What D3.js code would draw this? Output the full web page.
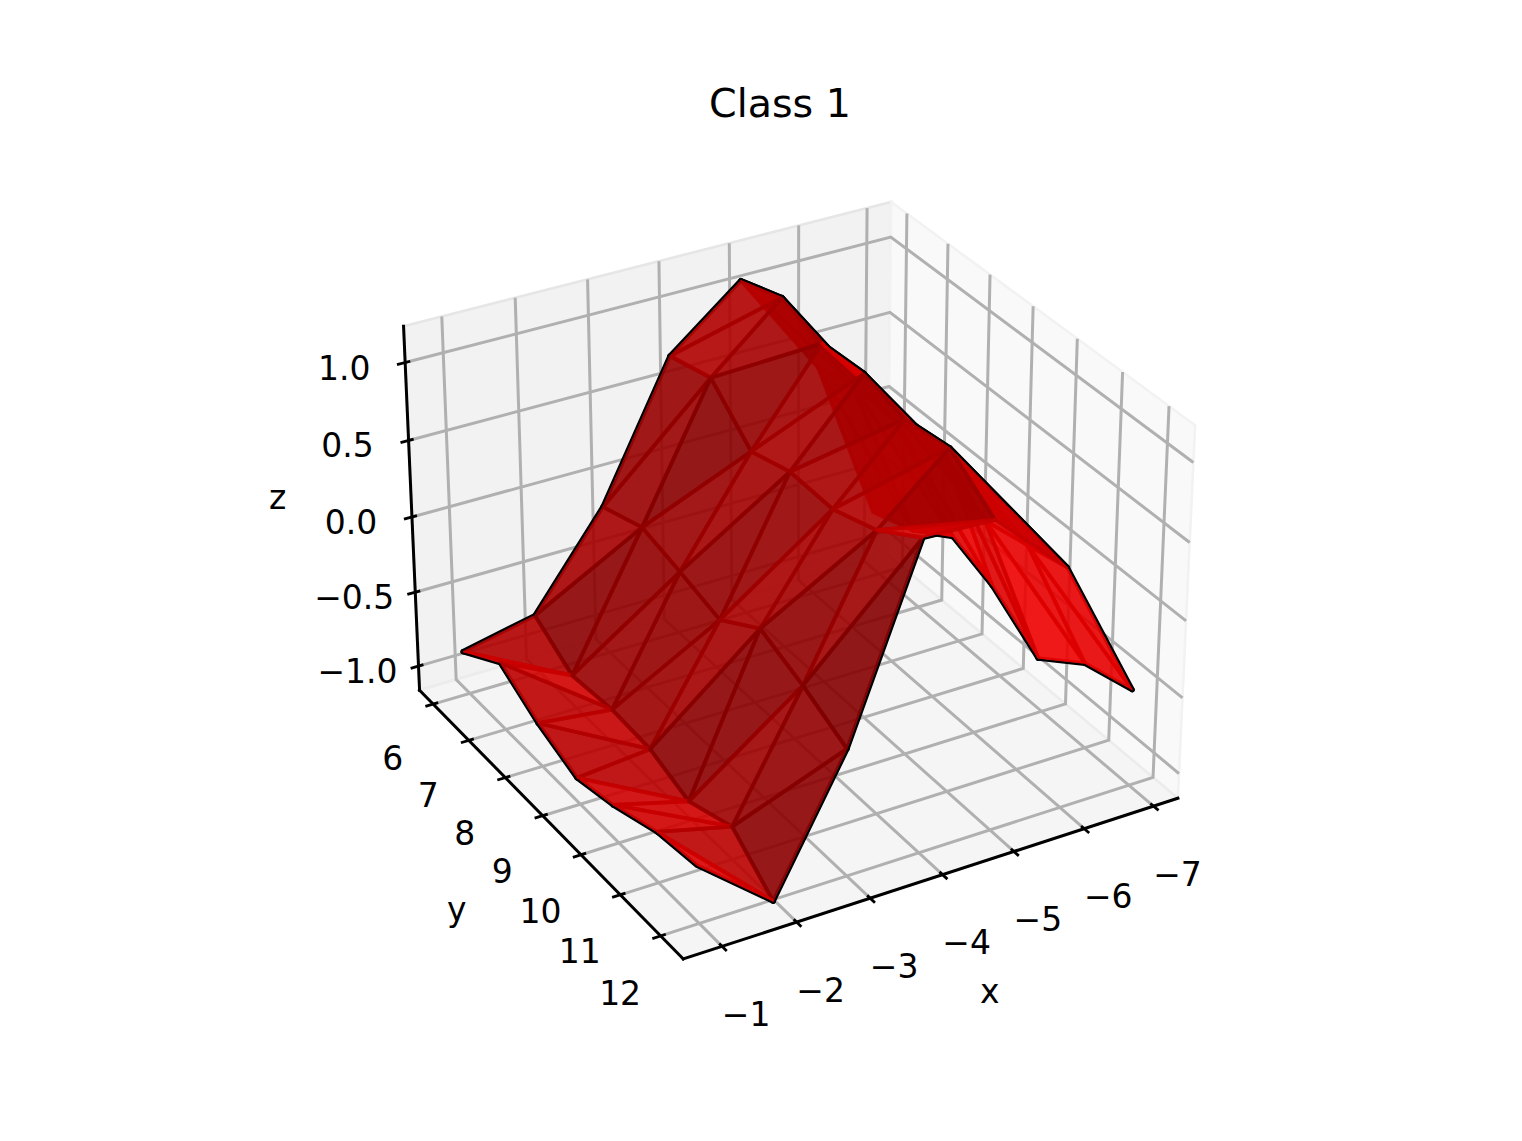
<!DOCTYPE html>
<html><head><meta charset="utf-8"><style>html,body{margin:0;background:#fff}svg{display:block}text{font-family:"DejaVu Sans";fill:#000}</style></head>
<body><div id="chart"></div>
<script src="https://cdnjs.cloudflare.com/ajax/libs/d3/7.8.5/d3.min.js"></script>
<script>
const title = "Class 1";
const xTicks = [-1,-2,-3,-4,-5,-6,-7];
const yTicks = [6,7,8,9,10,11,12];
const zTicks = [1.0,0.5,0.0,-0.5,-1.0];
const xLimits = [-7.355,-0.485], yLimits = [5.61,12.55], zLimits = [-1.165,1.23];
const xValues = [-1.035,-2.035,-3.035,-4.035,-5.035,-6.035,-7.035];
const yValues = [
 [5.77,6.83,7.84,8.86,9.80,10.91,11.90],
 [5.82,6.82,7.89,8.88,9.86,10.94,11.93],
 [5.82,6.87,7.85,8.86,9.86,10.89,11.93],
 [5.80,6.86,7.87,8.83,9.86,10.89,11.93],
 [5.84,6.88,7.87,8.88,9.85,10.87,11.90],
 [6.05,6.90,7.96,9.15,10.10,11.07,11.94],
 [5.77,6.78,7.76,8.72,9.83,10.89,11.94]];
const zValues = [
 [-0.94,-0.76,-0.92,-1.03,-0.97,-0.86,-0.82],
 [-0.82,-0.99,-0.96,-0.98,-1.08,-0.97,-1.20],
 [-0.22,-0.12,-0.19,-0.27,-0.09,-0.21,-0.36],
 [0.65,0.73,0.47,0.55,0.54,0.64,0.83],
 [1.03,1.13,1.04,1.06,0.98,1.02,0.80],
 [0.38,0.45,0.44,0.47,0.26,0.32,0.38],
 [-0.79,-0.69,-0.51,-0.62,-0.85,-0.63,-0.55]];

const W=1522,H=1141;
const halfXY=0.5714, halfZ=0.4286, dist=10, zoom=4960, cx=792, cy=563;
const U=[-Math.sin(Math.PI/3),Math.cos(Math.PI/3),0];
const el=Math.PI/6, az=Math.PI/3;
const N=[Math.cos(az)*Math.cos(el),Math.sin(az)*Math.cos(el),Math.sin(el)];
const Vv=[N[1]*U[2]-N[2]*U[1],N[2]*U[0]-N[0]*U[2],N[0]*U[1]-N[1]*U[0]];
const dot=(a,b)=>a[0]*b[0]+a[1]*b[1]+a[2]*b[2];
const sx=d3.scaleLinear().domain(xLimits).range([-halfXY,halfXY]);
const sy=d3.scaleLinear().domain(yLimits).range([-halfXY,halfXY]);
const sz=d3.scaleLinear().domain(zLimits).range([-halfZ,halfZ]);
function proj(x,y,z){const p=[sx(x),sy(y),sz(z)];const depth=dist-dot(N,p);
  return [cx+zoom*dot(U,p)/depth, cy-zoom*dot(Vv,p)/depth, depth];}
const line=d3.line();
const P=(...pts)=>line(pts.map(p=>proj(...p).slice(0,2)));
const [x0,x1]=xLimits,[y0,y1]=yLimits,[z0,z1]=zLimits;

const svg=d3.select("#chart").append("svg").attr("width",W).attr("height",H);
const PANE=[
 {c:"rgb(242,242,242)",e:"rgb(230,230,230)",p:[[x1,y0,z0],[x0,y0,z0],[x0,y0,z1],[x1,y0,z1]]},
 {c:"rgb(249,249,249)",e:"rgb(242,242,242)",p:[[x0,y0,z0],[x0,y1,z0],[x0,y1,z1],[x0,y0,z1]]},
 {c:"rgb(245,245,245)",e:"rgb(236,236,236)",p:[[x1,y1,z0],[x0,y1,z0],[x0,y0,z0],[x1,y0,z0]]}];
svg.append("g").selectAll("path").data(PANE).join("path")
  .attr("d",d=>P(...d.p)+"Z").attr("fill",d=>d.c).attr("stroke",d=>d.e).attr("stroke-width",2.6);

const grid=svg.append("g").attr("fill","none").attr("stroke","#b0b0b0").attr("stroke-width",3);
xTicks.forEach(t=>grid.append("path").attr("d",P([t,y1,z0],[t,y0,z0],[t,y0,z1])));
yTicks.forEach(t=>grid.append("path").attr("d",P([x1,t,z0],[x0,t,z0],[x0,t,z1])));
zTicks.forEach(t=>grid.append("path").attr("d",P([x1,y0,t],[x0,y0,t],[x0,y1,t])));

const ax=svg.append("g").attr("fill","none").attr("stroke","#000").attr("stroke-width",3).attr("stroke-linecap","square");
ax.append("path").attr("d",P([x1,y1,z0],[x0,y1,z0]));
ax.append("path").attr("d",P([x1,y0,z0],[x1,y1,z0]));
ax.append("path").attr("d",P([x1,y0,z0],[x1,y0,z1]));
const tk=svg.append("g").attr("fill","none").attr("stroke","#000").attr("stroke-width",2.8);
const dxr=x1-x0,dyr=y1-y0, out=0.016, inw=0.010;
xTicks.forEach(t=>tk.append("path").attr("d",P([t,y1+out*dyr,z0],[t,y1-inw*dyr,z0])));
yTicks.forEach(t=>tk.append("path").attr("d",P([x1+out*dxr,t,z0],[x1-inw*dxr,t,z0])));
zTicks.forEach(t=>tk.append("path").attr("d",P([x1+out*dxr,y0,t],[x1-inw*dxr,y0,t])));

const minus=s=>String(s).replace("-","\u2212");
function label(txt,pt,dx,dy,size=33){const q=proj(...pt);
  svg.append("text").attr("x",q[0]+dx).attr("y",q[1]+dy+0.365*size).attr("text-anchor","middle").attr("font-size",size).text(txt);}
xTicks.forEach(t=>label(minus(t),[t,y1,z0],24,67.5));
yTicks.forEach(t=>label(minus(t),[x1,t,z0],-40.5,54+0.5*(t-6)));
zTicks.forEach(t=>label(minus(t.toFixed(1)),[x1,y0,t],-61,5));
label("x",[(x0+x1)/2,y1,z0],53,114);
label("y",[x1,(y0+y1)/2,z0],-89,90);
label("z",[x1,y0,(z0+z1)/2],-134,-15);
svg.append("text").attr("x",780).attr("y",117).attr("text-anchor","middle").attr("font-size",39.6).text(title);

// surface: each grid cell is split along the same diagonal
const vert=(i,j)=>[xValues[i],yValues[i][j],zValues[i][j]];
const tris=[];
for(let i=0;i<xValues.length-1;i++)for(let j=0;j<7-1;j++){
  tris.push([vert(i,j),vert(i+1,j),vert(i+1,j+1)]);
  tris.push([vert(i,j),vert(i,j+1),vert(i+1,j+1)]);
}
const light=[-2/3,-2/3,1/3];
function shade(t){const a=t[1].map((v,k)=>v-t[0][k]),b=t[2].map((v,k)=>v-t[0][k]);
  let n=[a[1]*b[2]-a[2]*b[1],a[2]*b[0]-a[0]*b[2],a[0]*b[1]-a[1]*b[0]];
  const len=Math.hypot(...n)*(n[2]<0?-1:1);n=n.map(v=>v/len);
  return 0.3+(dot(n,light)+1)/2*0.7;}
tris.forEach(t=>{t.depth=d3.mean(t,p=>proj(...p)[2]);t.level=shade(t);t.d=P(...t)+"Z";});
tris.sort((a,b)=>d3.descending(a.depth,b.depth));
svg.append("g").selectAll("path").data(tris).join("path").attr("d",d=>d.d)
  .attr("fill",d=>`rgb(${Math.round(255*d.level)},0,0)`).attr("stroke",d=>`rgb(${Math.round(245*d.level)},0,0)`)
  .attr("fill-opacity",0.9).attr("stroke-opacity",0.9).attr("stroke-width",3.8).attr("stroke-linejoin","round");

// black rim, only outside the surface's silhouette
const defs=svg.append("defs");
const m=defs.append("mask").attr("id","outside").attr("maskUnits","userSpaceOnUse").attr("x",0).attr("y",0).attr("width",W).attr("height",H);
m.append("rect").attr("width",W).attr("height",H).attr("fill","#fff");
m.selectAll("path").data(tris).join("path").attr("d",d=>d.d).attr("fill","#000").attr("stroke","#000").attr("stroke-width",0.8);
svg.append("g").attr("mask","url(#outside)").selectAll("path").data(tris).join("path").attr("d",d=>d.d)
  .attr("fill","none").attr("stroke","#000").attr("stroke-width",5.2).attr("stroke-linejoin","round");
</script></body></html>
